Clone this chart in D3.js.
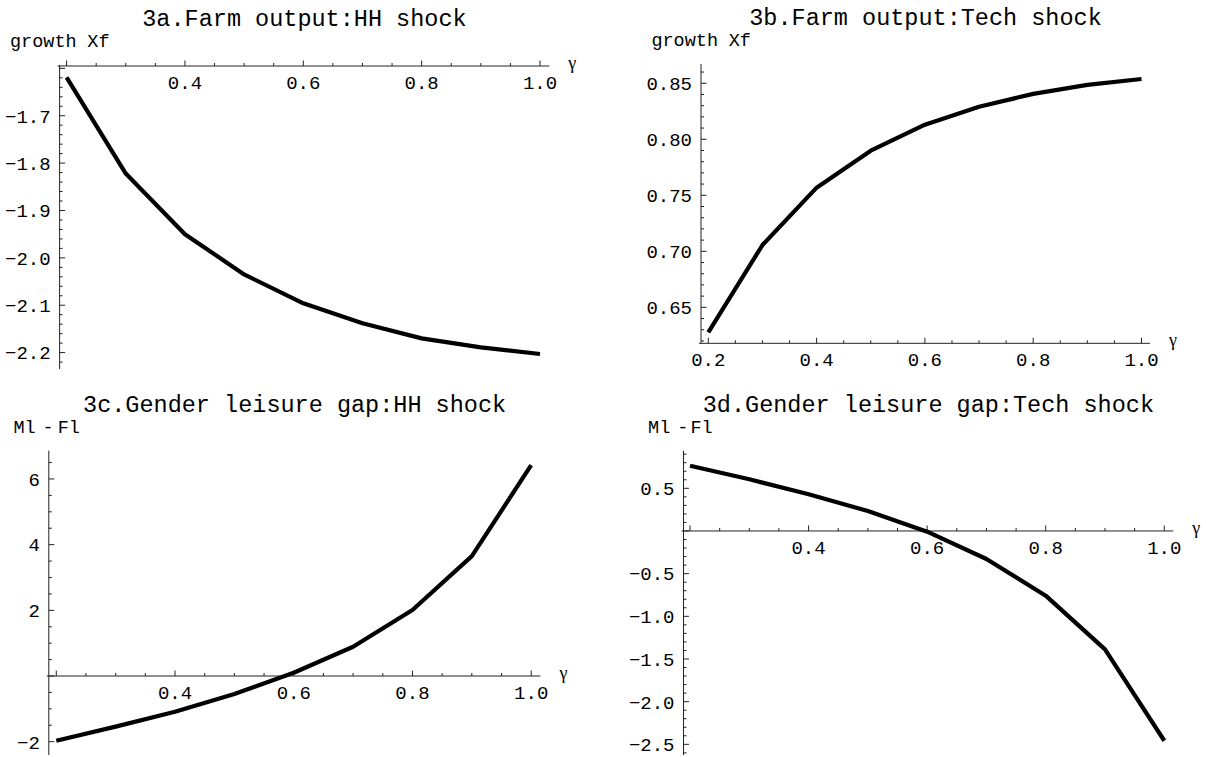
<!DOCTYPE html>
<html><head><meta charset="utf-8">
<script src="https://cdn.jsdelivr.net/npm/d3@7"></script>
<style>
body{margin:0;background:#fff}
text{font-family:"Liberation Mono","Courier New",monospace;fill:#000}
text.gam{font-family:"Liberation Serif","DejaVu Serif",serif}
</style>
</head><body>
<svg id="c" width="1206" height="757"></svg>
<script>
// ---------- data ----------
const gamma = [0.2, 0.3, 0.4, 0.5, 0.6, 0.7, 0.8, 0.9, 1.0];
const farmOutputHH   = [-1.619, -1.822, -1.950, -2.035, -2.096, -2.138, -2.170, -2.189, -2.203];
const farmOutputTech = [0.6277, 0.7056, 0.7568, 0.7898, 0.8130, 0.8291, 0.8405, 0.8485, 0.8538];
const leisureGapHH   = [-1.97, -1.54, -1.09, -0.55, 0.10, 0.89, 2.01, 3.65, 6.42];
const leisureGapTech = [0.765, 0.606, 0.430, 0.234, -0.008, -0.328, -0.758, -1.387, -2.458];

const titles = ["3a.Farm output:HH shock", "3b.Farm output:Tech shock",
                "3c.Gender leisure gap:HH shock", "3d.Gender leisure gap:Tech shock"];
const yAxisTitles = [["growth", "Xf"], ["growth", "Xf"], ["Ml", "-", "Fl"], ["Ml", "-", "Fl"]];
const xAxisTitle = "\u03b3";

const xDomains = [[0.1882, 1.0157], [0.1865, 1.0157], [0.1874, 1.0155], [0.189, 1.0152]];
const yDomains = [[-2.2346, -1.595], [0.6179, 0.8663], [-2.405, 6.83], [-2.625, 0.929]];

const xMajorTicks = [0.2, 0.4, 0.6, 0.8, 1.0];
const xTickLabels = [
  ["", "0.4", "0.6", "0.8", "1.0"],
  ["0.2", "0.4", "0.6", "0.8", "1.0"],
  ["", "0.4", "0.6", "0.8", "1.0"],
  ["", "0.4", "0.6", "0.8", "1.0"]];
const yMajorTicks = [
  [-2.2, -2.1, -2.0, -1.9, -1.8, -1.7, -1.6],
  [0.65, 0.70, 0.75, 0.80, 0.85],
  [-2, 0, 2, 4, 6],
  [-2.5, -2.0, -1.5, -1.0, -0.5, 0, 0.5]];
const yTickLabels = [
  ["\u22122.2", "\u22122.1", "\u22122.0", "\u22121.9", "\u22121.8", "\u22121.7", ""],
  ["0.65", "0.70", "0.75", "0.80", "0.85"],
  ["\u22122", "", "2", "4", "6"],
  ["\u22122.5", "\u22122.0", "\u22121.5", "\u22121.0", "\u22120.5", "", "0.5"]];
const series = [farmOutputHH, farmOutputTech, leisureGapHH, leisureGapTech];

// ---------- layout ----------
const panels = [
  {left: 59.6,  right: 549.3,  top: 66,    bottom: 369, yMinor: 0.02},
  {left: 701,   right: 1150,   top: 65,    bottom: 343.3, yMinor: 0.01},
  {left: 48.8,  right: 540.4,  top: 451.7, bottom: 755, yMinor: 0.5},
  {left: 683.5, right: 1173.3, top: 451.7, bottom: 755, yMinor: 0.1}];
const yTitleOffsets = [[-49.6, 27.7], [-49.6, 27.7], [-35.4, -0.8, 8.9], [-35.4, -0.8, 7]];
const yTitleAnchors = [["start", "start"], ["start", "start"], ["start", "middle", "start"], ["start", "middle", "start"]];

const svg = d3.select("#c");
const axisColor = "#222";
const tickFont = 19;

panels.forEach((p, i) => {
  const x = d3.scaleLinear().domain(xDomains[i]).range([p.left, p.right]);
  const y = d3.scaleLinear().domain(yDomains[i]).range([p.bottom, p.top]);
  const [y0, y1] = yDomains[i];
  const [x0, x1] = xDomains[i];
  const yOrigin = y(Math.min(Math.max(0, y0), y1));
  const xOrigin = x(Math.min(Math.max(0, x0), x1));
  const g = svg.append("g");

  // axes lines
  g.append("line").attr("x1", p.left - 2).attr("x2", p.right).attr("y1", yOrigin).attr("y2", yOrigin)
    .attr("stroke", axisColor).attr("stroke-width", 1);
  g.append("line").attr("x1", xOrigin).attr("x2", xOrigin).attr("y1", p.top - 1).attr("y2", p.bottom)
    .attr("stroke", axisColor).attr("stroke-width", 1);

  // x ticks
  const xMinor = d3.range(0.15, 1.05, 0.05).map(v => +v.toFixed(2))
    .filter(v => v >= x0 && v <= x1 && !xMajorTicks.some(m => Math.abs(m - v) < 1e-6));
  g.selectAll(null).data(xMinor).enter().append("line")
    .attr("x1", d => x(d)).attr("x2", d => x(d)).attr("y1", yOrigin).attr("y2", yOrigin - 3)
    .attr("stroke", axisColor).attr("stroke-width", 1);
  g.selectAll(null).data(xMajorTicks).enter().append("line")
    .attr("x1", d => x(d)).attr("x2", d => x(d)).attr("y1", yOrigin).attr("y2", yOrigin - 5.5)
    .attr("stroke", axisColor).attr("stroke-width", 1);
  g.selectAll(null).data(xMajorTicks).enter().append("text")
    .attr("x", d => x(d)).attr("y", yOrigin + 23)
    .attr("text-anchor", "middle").attr("font-size", tickFont)
    .text((d, k) => xTickLabels[i][k]);

  // y ticks
  const step = p.yMinor;
  const yMinor = d3.range(Math.ceil(y0 / step), Math.floor(y1 / step) + 1).map(k => k * step)
    .filter(v => !yMajorTicks[i].some(m => Math.abs(m - v) < step / 10));
  g.selectAll(null).data(yMinor).enter().append("line")
    .attr("x1", xOrigin).attr("x2", xOrigin + 3).attr("y1", d => y(d)).attr("y2", d => y(d))
    .attr("stroke", axisColor).attr("stroke-width", 1);
  g.selectAll(null).data(yMajorTicks[i]).enter().append("line")
    .attr("x1", xOrigin).attr("x2", xOrigin + 5.5).attr("y1", d => y(d)).attr("y2", d => y(d))
    .attr("stroke", axisColor).attr("stroke-width", 1);
  g.selectAll(null).data(yMajorTicks[i]).enter().append("text")
    .attr("x", xOrigin - 9).attr("y", d => y(d)).attr("dy", "0.36em")
    .attr("text-anchor", "end").attr("font-size", tickFont)
    .text((d, k) => yTickLabels[i][k]);

  // titles
  g.append("text").attr("x", (p.left + p.right) / 2).attr("y", p.top - 40)
    .attr("text-anchor", "middle").attr("font-size", 23.5).text(titles[i]);
  yAxisTitles[i].forEach((t, k) => {
    g.append("text").attr("x", xOrigin + yTitleOffsets[i][k]).attr("y", p.top - 19)
      .attr("text-anchor", yTitleAnchors[i][k]).attr("font-size", 18.5).text(t);
  });
  g.append("text").attr("class", "gam").attr("x", p.right + 23).attr("y", yOrigin).attr("dy", "0.15em")
    .attr("text-anchor", "middle").attr("font-size", 18).text(xAxisTitle);

  // curve
  const line = d3.line().x(d => x(d[0])).y(d => y(d[1]));
  g.append("path").datum(gamma.map((gv, k) => [gv, series[i][k]]))
    .attr("d", line).attr("fill", "none").attr("stroke", "#000")
    .attr("stroke-width", 4.2).attr("stroke-linejoin", "round");
});
</script>
</body></html>
